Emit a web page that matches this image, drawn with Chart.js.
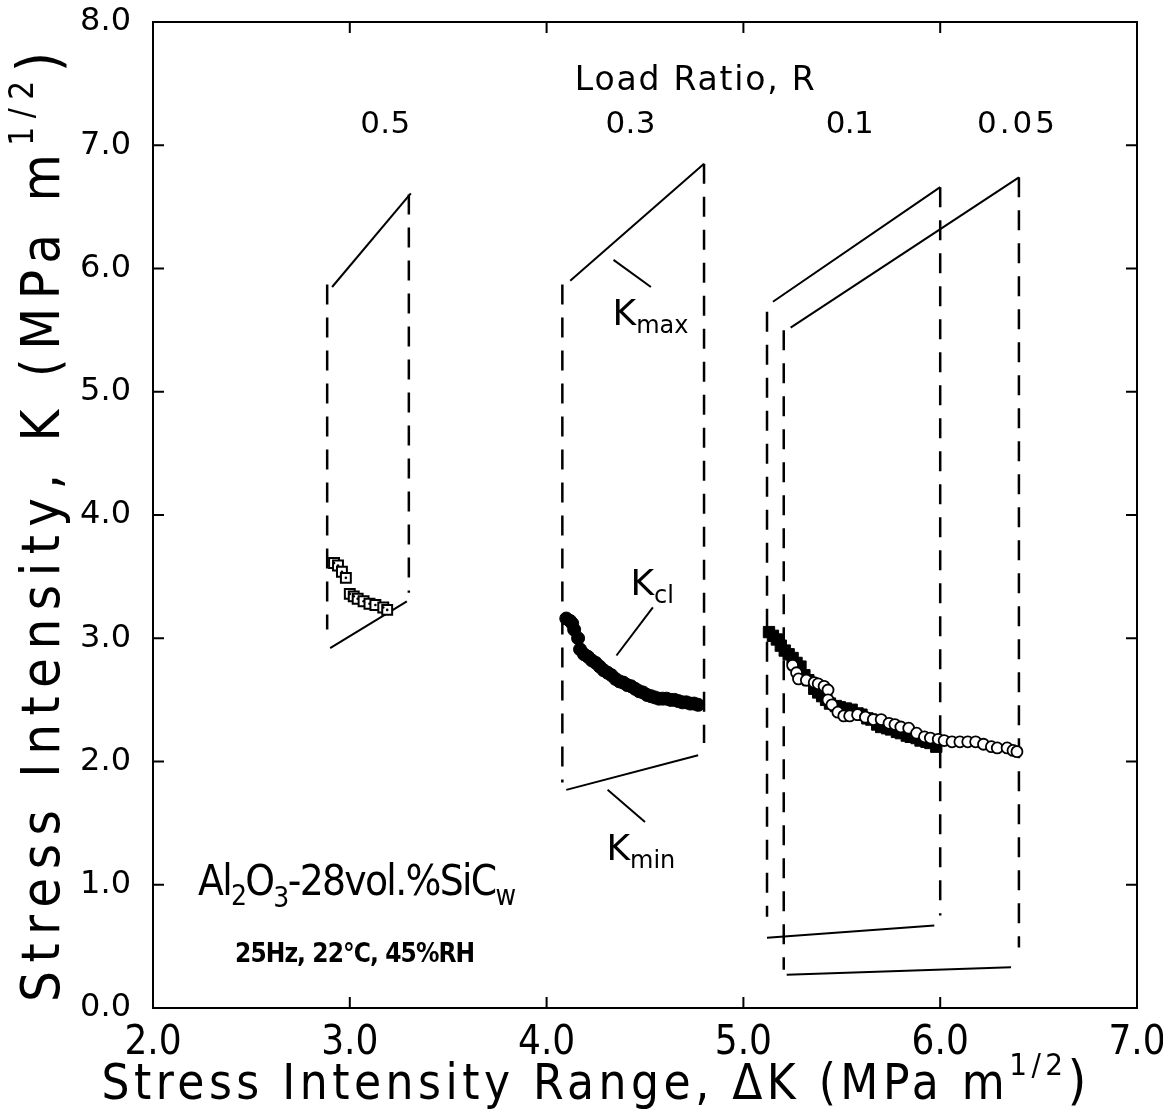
<!DOCTYPE html>
<html>
<head>
<meta charset="utf-8">
<script src="https://cdn.jsdelivr.net/npm/chart.js@4.4.0/dist/chart.umd.min.js"></script>
<style>
  html, body { margin: 0; padding: 0; background: #fff; }
  canvas { display: block; }
</style>
</head>
<body>
<canvas id="chart" width="1163" height="1113"></canvas>
<script>
// envelope of each load ratio (dK, K)
const loadRatios = ['0.5', '0.3', '0.1', '0.05'];
const kmaxStartDK = [2.91, 4.12, 5.15, 5.24];
const kmaxStartK  = [5.85, 5.90, 5.73, 5.52];
const kmaxEndDK   = [3.31, 4.80, 6.00, 6.40];
const kmaxEndK    = [6.61, 6.85, 6.66, 6.74];
const kminStartDK = [2.90, 4.10, 5.12, 5.22];
const kminStartK  = [2.92, 1.77, 0.57, 0.27];
const kminEndDK   = [3.29, 4.77, 5.97, 6.36];
const kminEndK    = [3.30, 2.05, 0.67, 0.33];
const leftEdgeDK  = [2.885, 4.08, 5.12, 5.205];
const leftEdgeTop = [5.87, 5.87, 5.65, 5.50];
const leftEdgeBot = [3.07, 1.83, 0.74, 0.31];
const rightEdgeDK  = [3.30, 4.80, 6.00, 6.40];
const rightEdgeTop = [6.60, 6.85, 6.66, 6.74];
const rightEdgeBot = [3.37, 2.15, 0.75, 0.49];

// closure stress intensity, R = 0.5 (open squares)
const r05DK = [2.92, 2.94, 2.96, 2.98, 3.00, 3.02, 3.04, 3.07, 3.10, 3.13, 3.17, 3.19];
const r05K  = [3.61, 3.59, 3.54, 3.49, 3.36, 3.34, 3.32, 3.30, 3.28, 3.27, 3.25, 3.23];

// R = 0.3 (filled circles)
const r03DK = [4.10, 4.12, 4.13, 4.14, 4.16, 4.17, 4.19, 4.21, 4.23, 4.25, 4.27, 4.29, 4.31, 4.33, 4.35, 4.37, 4.39, 4.41,
               4.43, 4.45, 4.47, 4.49, 4.51, 4.53, 4.55, 4.57, 4.59, 4.61, 4.63, 4.65, 4.67, 4.69, 4.71, 4.73, 4.75, 4.77];
const r03K  = [3.16, 3.14, 3.12, 3.07, 3.00, 2.91, 2.87, 2.85, 2.82, 2.80, 2.77, 2.74, 2.72, 2.70, 2.67, 2.65, 2.64, 2.62,
               2.61, 2.59, 2.57, 2.56, 2.54, 2.53, 2.52, 2.51, 2.51, 2.51, 2.50, 2.50, 2.49, 2.48, 2.48, 2.47, 2.47, 2.46];

// R = 0.1 (filled squares)
const r01DK = [5.13, 5.15, 5.17, 5.19, 5.21, 5.23, 5.25, 5.27, 5.29, 5.31, 5.33, 5.36, 5.38, 5.40, 5.42, 5.44, 5.47, 5.49, 5.52,
               5.55, 5.58, 5.60, 5.63, 5.65, 5.68, 5.70, 5.73, 5.75, 5.78, 5.80, 5.83, 5.85, 5.88, 5.90, 5.93, 5.95, 5.98];
const r01K  = [3.05, 3.02, 2.99, 2.94, 2.90, 2.87, 2.84, 2.80, 2.77, 2.70, 2.66, 2.59, 2.56, 2.53, 2.50, 2.47, 2.45, 2.44, 2.43,
               2.42, 2.39, 2.38, 2.35, 2.34, 2.30, 2.28, 2.27, 2.26, 2.24, 2.23, 2.21, 2.20, 2.19, 2.17, 2.16, 2.15, 2.12];

// R = 0.05 (open circles)
const r005DK = [5.25, 5.27, 5.28, 5.32, 5.36, 5.38, 5.41, 5.43, 5.43, 5.45, 5.48, 5.51, 5.54, 5.58, 5.62, 5.66, 5.70, 5.74,
                5.77, 5.80, 5.84, 5.88, 5.92, 5.95, 5.99, 6.02, 6.06, 6.10, 6.14, 6.18, 6.22, 6.26, 6.29, 6.34, 6.37, 6.39];
const r005K  = [2.78, 2.72, 2.67, 2.66, 2.64, 2.63, 2.61, 2.58, 2.50, 2.46, 2.40, 2.37, 2.37, 2.38, 2.36, 2.34, 2.34, 2.31,
                2.30, 2.28, 2.27, 2.23, 2.20, 2.19, 2.18, 2.17, 2.16, 2.16, 2.16, 2.16, 2.14, 2.12, 2.11, 2.11, 2.09, 2.08];

// leader lines for the K labels
const leaderDK = [[4.34, 4.53], [4.54, 4.355], [4.31, 4.50]];
const leaderK  = [[6.07, 5.85], [3.25, 2.86], [1.77, 1.51]];

const geo = "'DejaVu Sans', sans-serif";
const narrow = "'Liberation Sans Narrow', 'DejaVu Sans Condensed', 'Liberation Sans', sans-serif";

const pts = (xs, ys) => xs.map((v, i) => ({ x: v, y: ys[i] }));

const datasets = [];

datasets.push({ data: pts(r005DK, r005K), pointStyle: 'circle', pointRadius: 5.5, borderWidth: 1.8,
  borderColor: '#000', backgroundColor: '#fff', order: 1 });
datasets.push({ data: pts(r01DK, r01K), pointStyle: 'rect', pointRadius: 8, borderWidth: 1,
  borderColor: '#000', backgroundColor: '#000', order: 2 });
datasets.push({ data: pts(r03DK, r03K), pointStyle: 'circle', pointRadius: 6.5, borderWidth: 1,
  borderColor: '#000', backgroundColor: '#000', order: 2 });
// dotted centre of the open squares, then the squares themselves
datasets.push({ data: pts(r05DK, r05K), pointStyle: 'circle', pointRadius: 1.3, borderWidth: 0,
  backgroundColor: '#000', order: 1 });
datasets.push({ data: pts(r05DK, r05K), pointStyle: 'rect', pointRadius: 7, borderWidth: 2,
  borderColor: '#000', backgroundColor: '#fff', order: 2 });

const lineSet = (xs, ys, dashed) => ({
  data: pts(xs, ys), showLine: true, pointRadius: 0, borderColor: '#000',
  borderWidth: dashed ? 2.5 : 2, borderDash: dashed ? [20, 13] : [], order: 5
});

loadRatios.forEach((r, i) => {
  datasets.push(lineSet([kmaxStartDK[i], kmaxEndDK[i]], [kmaxStartK[i], kmaxEndK[i]], false));
  datasets.push(lineSet([kminStartDK[i], kminEndDK[i]], [kminStartK[i], kminEndK[i]], false));
  datasets.push(lineSet([leftEdgeDK[i], leftEdgeDK[i]], [leftEdgeTop[i], leftEdgeBot[i]], true));
  datasets.push(lineSet([rightEdgeDK[i], rightEdgeDK[i]], [rightEdgeTop[i], rightEdgeBot[i]], true));
});
leaderDK.forEach((xs, i) => datasets.push(lineSet(xs, leaderK[i], false)));

// text with sub/superscripts, optionally stretched to a target width with letter spacing
function drawRich(ctx, segs, x, y, family, weight, target, align) {
  ctx.save();
  ctx.fillStyle = '#000';
  ctx.textBaseline = 'alphabetic';
  ctx.textAlign = 'left';
  ctx.letterSpacing = '0px';
  const widths = segs.map(s => { ctx.font = `${weight} ${s[1]}px ${family}`; return ctx.measureText(s[0]).width; });
  const natural = widths.reduce((a, b) => a + b, 0);
  const chars = segs.reduce((a, s) => a + s[0].length, 0);
  const sp = target ? (target - natural) / Math.max(chars - 1, 1) : 0;
  const total = natural + sp * (chars - 1);
  let cx = align === 'center' ? x - total / 2 : x;
  ctx.letterSpacing = sp + 'px';
  segs.forEach((s, i) => {
    ctx.font = `${weight} ${s[1]}px ${family}`;
    ctx.fillText(s[0], cx, y + s[2]);
    cx += widths[i] + sp * s[0].length;
  });
  ctx.restore();
}

const notes = [
  { x: 4.753, y: 7.45, segs: [['Load Ratio, R', 33, 0]], w: 240, align: 'center', font: geo },
  { x: 3.18, y: 7.10, segs: [['0.5', 31, 0]], w: 50, align: 'center', font: geo },
  { x: 4.426, y: 7.10, segs: [['0.3', 31, 0]], w: 50, align: 'center', font: geo },
  { x: 5.54, y: 7.10, segs: [['0.1', 31, 0]], w: 48, align: 'center', font: geo },
  { x: 6.385, y: 7.10, segs: [['0.05', 31, 0]], w: 78, align: 'center', font: geo },
  { x: 4.335, y: 5.54, segs: [['K', 36, 0], ['max', 24, 8]], font: geo },
  { x: 4.426, y: 3.35, segs: [['K', 36, 0], ['cl', 24, 8]], font: geo },
  { x: 4.304, y: 1.20, segs: [['K', 36, 0], ['min', 24, 8]], font: geo },
  { x: 2.229, y: 0.917, segs: [['Al', 42, 0], ['2', 28, 10], ['O', 42, 0], ['3', 28, 12], ['-28vol.%SiC', 42, 0], ['w', 28, 10]],
    w: 318, font: narrow },
  { x: 2.417, y: 0.373, segs: [['25Hz, 22\u00B0C, 45%RH', 26, 0]], w: 240, font: narrow, weight: 'bold' }
];

const frame = {
  id: 'frame',
  afterDraw(chart) {
    const { ctx, chartArea: a, scales: { x, y } } = chart;
    ctx.save();
    ctx.strokeStyle = '#000';
    ctx.lineWidth = 2;
    ctx.strokeRect(a.left, a.top, a.right - a.left, a.bottom - a.top);
    ctx.beginPath();
    x.ticks.forEach(t => {
      const px = x.getPixelForValue(t.value);
      ctx.moveTo(px, a.bottom); ctx.lineTo(px, a.bottom - 11);
      ctx.moveTo(px, a.top); ctx.lineTo(px, a.top + 11);
    });
    y.ticks.forEach(t => {
      const py = y.getPixelForValue(t.value);
      ctx.moveTo(a.left, py); ctx.lineTo(a.left + 11, py);
      ctx.moveTo(a.right, py); ctx.lineTo(a.right - 11, py);
    });
    ctx.stroke();
    ctx.restore();

    notes.forEach(n => drawRich(ctx, n.segs, x.getPixelForValue(n.x), y.getPixelForValue(n.y),
      n.font, n.weight || 'normal', n.w, n.align));

    // axis titles
    drawRich(ctx, [['Stress Intensity Range, \u0394K (MPa m', 49, 0], ['1/2', 31, -24], [')', 54, 0]],
      594, 1099, narrow, 'normal', 985, 'center');
    ctx.save();
    ctx.translate(59, 527);
    ctx.rotate(-Math.PI / 2);
    drawRich(ctx, [['Stress Intensity, K (MPa m', 54, 0], ['1/2', 33, -26], [')', 58, 0]],
      0, 0, narrow, 'normal', 950, 'center');
    ctx.restore();
  }
};

new Chart(document.getElementById('chart'), {
  type: 'scatter',
  data: { datasets },
  options: {
    responsive: false,
    animation: false,
    devicePixelRatio: 1,
    layout: { padding: { top: 22, right: 26, left: 0, bottom: 0 } },
    plugins: { legend: { display: false }, tooltip: { enabled: false } },
    scales: {
      x: {
        type: 'linear', min: 2, max: 7,
        afterFit: s => { s.height = 105; s.paddingLeft = 0; s.paddingRight = 0; },
        grid: { display: false, drawTicks: false },
        border: { display: false },
        ticks: { stepSize: 1, autoSkip: false, maxRotation: 0, padding: 12, color: '#000',
          font: { family: narrow, size: 40 }, callback: v => v.toFixed(1) }
      },
      y: {
        type: 'linear', min: 0, max: 8,
        afterFit: s => { s.width = 153; s.paddingTop = 0; s.paddingBottom = 0; },
        grid: { display: false, drawTicks: false },
        border: { display: false },
        ticks: { stepSize: 1, autoSkip: false, padding: 22, color: '#000',
          font: { family: geo, size: 32 }, callback: v => v.toFixed(1) }
      }
    }
  },
  plugins: [frame]
});
</script>
</body>
</html>
